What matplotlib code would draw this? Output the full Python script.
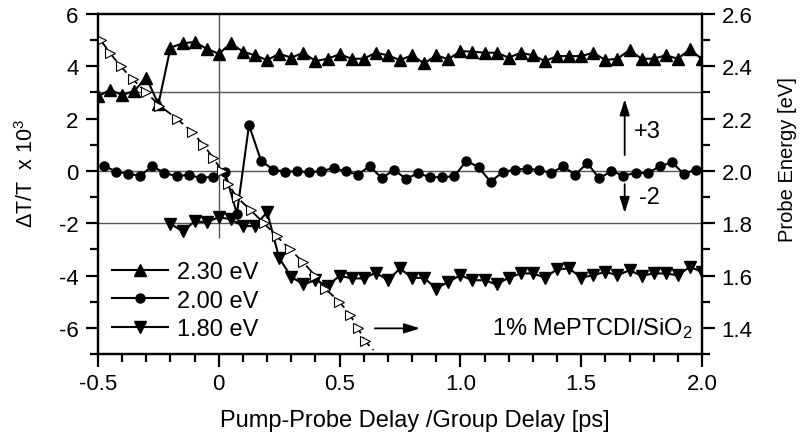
import numpy as np
import matplotlib.pyplot as plt
from matplotlib.ticker import MultipleLocator

plt.rcParams['font.family'] = ['Liberation Sans', 'DejaVu Sans']
plt.rcParams['mathtext.fontset'] = 'custom'
plt.rcParams['mathtext.rm'] = 'Liberation Sans'
plt.rcParams['mathtext.it'] = 'Liberation Sans:italic'
plt.rcParams['axes.unicode_minus'] = False

# transient transmission traces (already offset by +3 / 0 / -2)
t_230 = np.arange(-0.5, 2.001, 0.05)
dT_230 = [2.85, 3.10, 2.90, 3.06, 3.57, 2.55, 4.71, 4.88, 4.93, 4.67,
          4.48, 4.88, 4.56, 4.42, 4.24, 4.48, 4.33, 4.52, 4.20, 4.29,
          4.46, 4.29, 4.29, 4.52, 4.42, 4.24, 4.42, 4.11, 4.42, 4.27,
          4.58, 4.56, 4.52, 4.52, 4.33, 4.52, 4.42, 4.20, 4.39, 4.39,
          4.39, 4.52, 4.24, 4.29, 4.62, 4.29, 4.29, 4.42, 4.29, 4.65, 4.27]

t_200 = np.arange(-0.475, 1.976, 0.05)
dT_200 = [0.20, -0.03, -0.11, -0.18, 0.18, -0.08, -0.20, -0.15, -0.27, -0.22,
          -0.03, -1.64, 1.75, 0.39, 0.05, -0.03, -0.01, -0.05, -0.01, 0.11,
          -0.01, -0.14, 0.18, -0.28, 0.04, -0.30, -0.09, -0.24, -0.24, -0.20,
          0.39, 0.14, -0.41, -0.05, 0.05, 0.08, 0.04, -0.08, 0.17, -0.14,
          0.29, -0.28, -0.01, -0.18, -0.08, -0.08, 0.17, 0.33, -0.11, 0.05]

t_180 = np.arange(-0.2, 2.001, 0.05)
dT_180 = [-2.02, -2.31, -1.93, -1.96, -1.77, -1.85, -2.11, -2.11, -1.57, -3.33,
          -4.05, -4.34, -4.18, -4.39, -4.01, -4.11, -4.11, -3.89, -4.18, -3.73,
          -4.09, -4.09, -4.50, -4.24, -3.99, -4.18, -4.18, -4.34, -4.08, -3.92,
          -3.92, -4.08, -3.76, -3.73, -4.08, -3.99, -3.86, -3.99, -3.80, -4.01,
          -3.92, -3.92, -3.99, -3.67, -3.86]

# group delay (chirp) of the probe; last point is the end of the dashed guide
t_gd = [-0.489, -0.45, -0.406, -0.356, -0.30, -0.246, -0.174, -0.112, -0.064,
        -0.023, 0.012, 0.039, 0.074, 0.132, 0.187, 0.24, 0.295, 0.35, 0.398,
        0.44, 0.499, 0.543, 0.575, 0.605, 0.64]
E_gd = [2.50, 2.45, 2.40, 2.35, 2.30, 2.25, 2.20, 2.15, 2.10, 2.05, 2.00,
        1.95, 1.90, 1.85, 1.80, 1.75, 1.70, 1.65, 1.60, 1.55, 1.50, 1.45,
        1.40, 1.35, 1.315]

fig = plt.figure(figsize=(8.01, 4.39), dpi=100)
ax = fig.add_axes([98/801, 1 - 355/439, 604/801, 340/439])
ax2 = ax.twinx()

fs = 16     # tick labels
fs_txt = 17 # legend, notes, x label
for a in (ax, ax2):
    for s in a.spines.values():
        s.set_linewidth(1.6)

ax.axhline(3, color='#555555', lw=1, zorder=1)
ax.axhline(0, color='#555555', lw=1, zorder=1)
ax.axhline(-2, color='#555555', lw=1, zorder=1)
ax.vlines(0, -2.55, 6, color='#555555', lw=1, zorder=1)

l1, = ax.plot(t_230, dT_230, '-^', color='k', ms=8, lw=1.5, label='2.30 eV', zorder=3)
l2, = ax.plot(t_200, dT_200, '-o', color='k', ms=6.5, lw=1.5, label='2.00 eV', zorder=3)
l3, = ax.plot(t_180, dT_180, '-v', color='k', ms=8, lw=1.5, label='1.80 eV', zorder=3)

ax2.plot(t_gd, E_gd, color='k', lw=1.3, ls=(0, (6, 2.5)), marker='>', ms=7,
         mfc='white', mec='k', mew=0.8, markevery=list(range(len(t_gd) - 1)))

ax.set_xlim(-0.5, 2.0)
ax.set_ylim(-7, 6)
ax2.set_ylim(1.3, 2.6)

ax.xaxis.set_minor_locator(MultipleLocator(0.1))
ax.yaxis.set_minor_locator(MultipleLocator(1))
ax2.yaxis.set_minor_locator(MultipleLocator(0.1))

ax.set_xticks([-0.5, 0, 0.5, 1.0, 1.5, 2.0])
ax.set_xticklabels(['-0.5', '0', '0.5', '1.0', '1.5', '2.0'])
ax.set_yticks([-6, -4, -2, 0, 2, 4, 6])
ax2.set_yticks([1.4, 1.6, 1.8, 2.0, 2.2, 2.4, 2.6])
ax2.set_yticklabels(['1.4', '1.6', '1.8', '2.0', '2.2', '2.4', '2.6'])

for a in (ax, ax2):
    a.tick_params(which='major', length=9, width=1.6, labelsize=fs,
                  direction='out', pad=5)
    a.tick_params(which='minor', length=5.5, width=1.6, direction='out')

ax.set_xlabel('Pump-Probe Delay /Group Delay [ps]', fontsize=fs_txt)
ax.xaxis.set_label_coords(0.525, -0.162)
ax.set_ylabel(r'$\Delta$T/T  x 10$^3$', fontsize=15.5)
ax.yaxis.set_label_coords(-0.099, 0.535)
ax2.set_ylabel('Probe Energy [eV]', fontsize=14.5)
ax2.yaxis.set_label_coords(1.126, 0.576)

ax.legend(handles=[l1, l2, l3], loc='lower left', bbox_to_anchor=(0.012, 0.02),
          frameon=False, fontsize=fs_txt, handlelength=2.37, handletextpad=0.38,
          labelspacing=0.27, borderpad=0.3, borderaxespad=0, numpoints=1)

arw = dict(arrowstyle='-|>,head_length=0.8,head_width=0.25', color='k',
           lw=1.3, mutation_scale=12)
ax.annotate('', xy=(1.68, 2.85), xytext=(1.68, 0.5), arrowprops=arw)
ax.annotate('', xy=(1.68, -1.72), xytext=(1.68, -0.4), arrowprops=arw)
ax.text(1.72, 1.52, '+3', fontsize=fs_txt, ha='left', va='center')
ax.text(1.74, -1.0, '-2', fontsize=fs_txt, ha='left', va='center')
ax.annotate('', xy=(0.845, -6.02), xytext=(0.634, -6.02), arrowprops=arw)
ax.text(1.963, -6.0, '1% MePTCDI/SiO$_2$', fontsize=fs_txt, ha='right', va='center')

fig.savefig('out.png', dpi=100)
